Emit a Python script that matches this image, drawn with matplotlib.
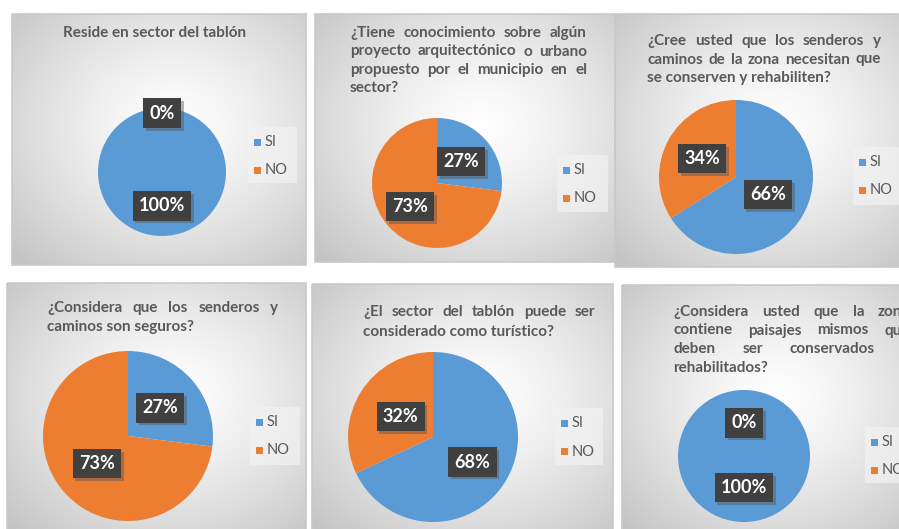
import numpy as np
import matplotlib
matplotlib.use('Agg')
import matplotlib.pyplot as plt
from matplotlib.patches import Rectangle
import matplotlib.patheffects as pe

W, H = 899, 529

# Datos de las encuestas (porcentajes SI / NO)
CATEGORIAS = ['SI', 'NO']
COLORES = ['#5B9BD5', '#ED7D31']

P1_VALORES = [100, 0]
P2_VALORES = [27, 73]
P3_VALORES = [66, 34]
P4_VALORES = [27, 73]
P5_VALORES = [68, 32]
P6_VALORES = [100, 0]

P1_TITULO = ['Reside en sector del tablón']
P2_TITULO = ['¿Tiene conocimiento sobre algún',
             'proyecto arquitectónico o urbano',
             'propuesto por el municipio en el',
             'sector?']
P3_TITULO = ['¿Cree usted que los senderos y',
             'caminos de la zona necesitan que',
             'se conserven y rehabiliten?']
P4_TITULO = ['¿Considera que los senderos y',
             'caminos son seguros?']
P5_TITULO = ['¿El sector del tablón puede ser',
             'considerado como turístico?']
P6_TITULO = ['¿Considera usted que la zona',
             'contiene paisajes mismos que',
             'deben ser conservados y',
             'rehabilitados?']

# Disposición de cada panel (en pixeles)
PANELES = [
    dict(vals=P1_VALORES, titulo=P1_TITULO, caja=(12, 14, 306, 265), centrado=True,
         tx=(68, 242), ty=33, dy=18.5, pie=(162, 172, 64), ldist=[0.53, 0.92],
         leg=(248, 127, 49, 56)),
    dict(vals=P2_VALORES, titulo=P2_TITULO, caja=(315, 14, 615, 262), centrado=False,
         tx=(350, 587), ty=33, dy=18.5, pie=(437, 183, 65), ldist=[0.5, 0.55],
         leg=(557, 155, 51, 57)),
    dict(vals=P3_VALORES, titulo=P3_TITULO, caja=(615, 14, 905, 267), centrado=False,
         tx=(647, 881), ty=41, dy=18.5, pie=(736, 177, 77), ldist=[0.47, 0.5],
         leg=(853, 147, 50, 58)),
    dict(vals=P4_VALORES, titulo=P4_TITULO, caja=(7, 283, 306, 535), centrado=False,
         tx=(47, 278), ty=308, dy=19, pie=(128, 436, 85), ldist=[0.5, 0.49],
         leg=(250, 407, 50, 58)),
    dict(vals=P5_VALORES, titulo=P5_TITULO, caja=(312, 284, 613, 535), centrado=False,
         tx=(363, 595), ty=312, dy=20, pie=(433, 437, 85), ldist=[0.55, 0.45],
         leg=(555, 408, 48, 57)),
    dict(vals=P6_VALORES, titulo=P6_TITULO, caja=(622, 285, 905, 535), centrado=False,
         tx=(673, 910), ty=312, dy=18.5, pie=(744, 456, 66), ldist=[0.48, 0.5],
         leg=(865, 427, 50, 56)),
]

FUENTE = 'Lato'
GRIS_TEXTO = '#595959'
TAM_TITULO = 11
TAM_ETIQUETA = 13
TAM_LEYENDA = 10.5

fig = plt.figure(figsize=(W / 100, H / 100), dpi=100)
fig.patch.set_facecolor('white')
fondo = fig.add_axes([0, 0, 1, 1])
fondo.set_xlim(0, W)
fondo.set_ylim(H, 0)
fondo.axis('off')


def gradiente(x0, y0, x1, y1):
    ny, nx = 120, 120
    yy, xx = np.mgrid[0:1:ny * 1j, 0:1:nx * 1j]
    d = np.sqrt(((xx - 0.55) / 0.75) ** 2 + ((yy - 0.45) / 0.75) ** 2)
    c = 1.0 - 0.23 * np.clip(d, 0, 1) ** 1.3
    img = np.dstack([c, c, c])
    fondo.imshow(img, extent=[x0, x1, y1, y0], aspect='auto', zorder=1,
                 interpolation='bilinear')
    fondo.add_patch(Rectangle((x0, y0), x1 - x0, y1 - y0, fill=False,
                              ec='#c9c9c9', lw=1.2, zorder=2))


def titulo(lineas, x0, x1, y, dy, centrado):
    ren = fig.canvas.get_renderer()
    for i, linea in enumerate(lineas):
        yy = y + i * dy
        kw = dict(fontsize=TAM_TITULO, fontweight='bold', color=GRIS_TEXTO,
                  family=FUENTE, va='center', zorder=5)
        if centrado:
            fondo.text((x0 + x1) / 2, yy, linea, ha='center', **kw)
            continue
        palabras = linea.split()
        if i == len(lineas) - 1 or len(palabras) < 2:
            fondo.text(x0, yy, linea, ha='left', **kw)
            continue
        textos = [fondo.text(0, yy, p, ha='left', **kw) for p in palabras]
        anchos = [t.get_window_extent(ren).width for t in textos]
        hueco = (x1 - x0 - sum(anchos)) / (len(palabras) - 1)
        x = x0
        for t, a in zip(textos, anchos):
            t.set_x(x)
            x += a + hueco


for p in PANELES:
    x0, y0, x1, y1 = p['caja']
    gradiente(x0, y0, x1, y1)
    titulo(p['titulo'], p['tx'][0], p['tx'][1], p['ty'], p['dy'], p['centrado'])

    # Gráfico circular
    cx, cy, r = p['pie']
    ax = fig.add_axes([(cx - r) / W, 1 - (cy + r) / H, 2 * r / W, 2 * r / H])
    ax.pie(p['vals'], colors=COLORES, startangle=90, counterclock=False,
           wedgeprops=dict(linewidth=0))
    ax.set_xlim(-1, 1)
    ax.set_ylim(-1, 1)
    ax.set_zorder(3)

    # Etiquetas de porcentaje
    total = float(sum(p['vals']))
    inicio = 90.0
    for v, dist in zip(p['vals'], p['ldist']):
        ang = 360.0 * v / total
        medio = np.radians(inicio - ang / 2)
        inicio -= ang
        t = ax.text(dist * np.cos(medio), dist * np.sin(medio), f'{v:.0f}%',
                    ha='center', va='center', color='white', fontweight='bold',
                    family=FUENTE, fontsize=TAM_ETIQUETA, zorder=6,
                    bbox=dict(boxstyle='square,pad=0.34', fc='#404040', ec='none'))
        t.get_bbox_patch().set_path_effects([
            pe.withSimplePatchShadow(offset=(2, -2), shadow_rgbFace='#555555', alpha=0.45),
            pe.Normal()])

    # Leyenda
    lx, ly, lw, lh = p['leg']
    fondo.add_patch(Rectangle((lx, ly), lw, lh, fc='#f2f2f2', ec='none',
                              alpha=0.7, zorder=4))
    for k, (cat, col) in enumerate(zip(CATEGORIAS, COLORES)):
        fy = ly + 15 + k * 28.5
        fondo.add_patch(Rectangle((lx + 6, fy - 3.5), 7, 7, fc=col, ec='none', zorder=5))
        fondo.text(lx + 17, fy, cat, ha='left', va='center', fontsize=TAM_LEYENDA,
                   color=GRIS_TEXTO, family=FUENTE, zorder=5)

fig.savefig('out.png', dpi=100)
